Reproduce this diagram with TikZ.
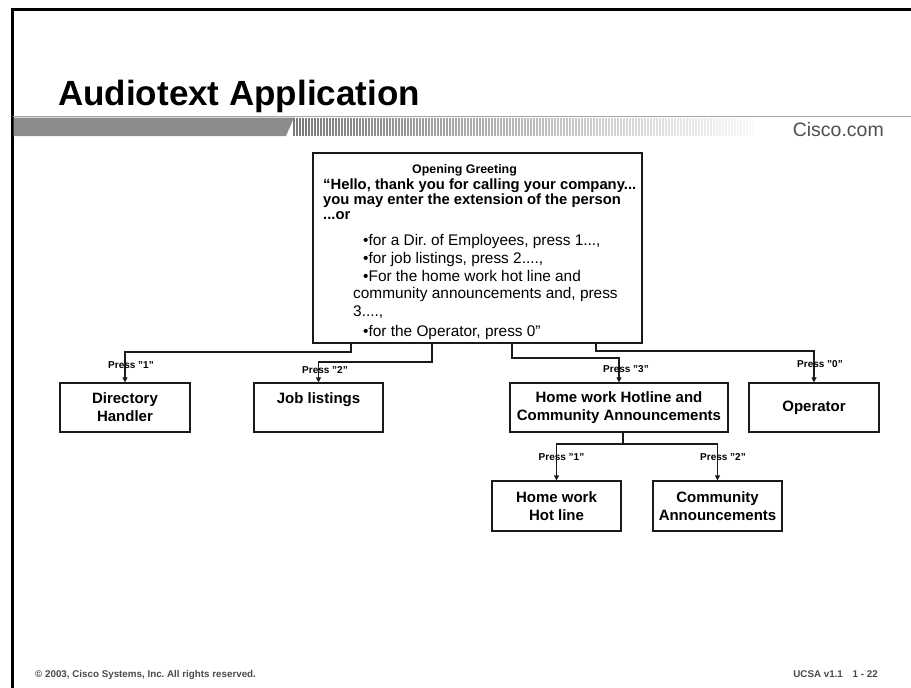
\documentclass[tikz,border=0pt]{standalone}
\usepackage{fontspec}
\setmainfont{Liberation Sans}
\usetikzlibrary{arrows.meta}
\definecolor{barGray}{HTML}{8C8C8C}
\definecolor{ruleGray}{HTML}{A6A6A6}
\definecolor{stripeGray}{HTML}{7A7A7A}
\definecolor{logoGray}{HTML}{505050}
\definecolor{footGray}{HTML}{4A4A4A}
\definecolor{lineInk}{HTML}{1A1A1A}
\frenchspacing
\begin{document}
\begin{tikzpicture}[x=1pt,y=-1pt,
  box/.style={draw=lineInk, line width=1.2pt, inner sep=0pt, align=center,
    minimum height=49pt, font=\fontsize{15}{18}\selectfont\bfseries},
  ghead/.style={anchor=base, inner sep=0pt, font=\fontsize{12.4}{14}\selectfont\bfseries},
  gbold/.style={anchor=base west, inner sep=0pt, font=\fontsize{14.8}{16}\selectfont\bfseries},
  gtext/.style={anchor=base west, inner sep=0pt, font=\fontsize{15.4}{17}\selectfont},
  presslbl/.style={inner sep=0pt, font=\fontsize{10}{12}\selectfont\bfseries},
  conn/.style={draw=lineInk, line width=1.2pt},
  arr/.style={conn, -{Triangle[length=5pt,width=5pt]}},
  foot/.style={inner sep=0pt, text=footGray, font=\fontsize{9.8}{11}\selectfont\bfseries}
]
\useasboundingbox (0,0) rectangle (911,688);
\fill[white] (0,0) rectangle (911,688);

% slide frame
\draw[line width=3pt, line join=miter] (911,9.5) -- (12,9.5) -- (12,688);

% title
\node[anchor=base west, inner sep=0pt, font=\fontsize{35}{40}\selectfont\bfseries]
  (title) at (58,105) {Audiotext Application};

% header bar: rule, solid part, fading stripes
\draw[ruleGray, line width=1.5pt] (13,116.5) -- (911,116.5);
\fill[barGray] (13.5,117.5) -- (294,117.5) -- (286,136) -- (13.5,136) -- cycle;
\foreach \i in {0,...,153}{
  \pgfmathsetmacro{\op}{1-\i/160}
  \draw[stripeGray, line width=1.4pt, opacity=\op] (294+3*\i,117.5) -- (294+3*\i,136);
}
\node[anchor=base east, inner sep=0pt, text=logoGray, font=\fontsize{19.5}{22}\selectfont]
  (logo) at (884,136) {Cisco.com};

% opening greeting menu
\node[draw=lineInk, line width=1.2pt, minimum width=329pt, minimum height=190pt, inner sep=0pt]
  (main) at (477.5,248) {};
\node[ghead] (g0) at (464.5,173.5) {Opening Greeting};
\node[gbold] (g1) at (323,189) {“Hello, thank you for calling your company...};
\node[gbold] (g2) at (323,204) {you may enter the extension of the person};
\node[gbold] (g3) at (323,219.5) {...or};
\node[gtext] (g4) at (363,245) {•for a Dir. of Employees, press 1...,};
\node[gtext] (g5) at (363,263) {•for job listings, press 2....,};
\node[gtext] (g6) at (363,281) {•For the home work hot line and};
\node[gtext] (g7) at (353,298.5) {community announcements and, press};
\node[gtext] (g8) at (353,316.5) {3....,};
\node[gtext] (g9) at (363,336) {•for the Operator, press 0”};

% first level handlers
\node[box, minimum width=130pt] (dir) at (125,407.5) {Directory\\Handler};
\node[box, minimum width=129pt] (job) at (318.5,407.5) {Job listings\\\mbox{}};
\node[box, minimum width=218pt] (hw) at (619,407.5) {Home work Hotline and\\Community Announcements};
\node[box, minimum width=130pt] (op) at (814,407.5) {Operator};

% second level handlers
\node[box, minimum width=129pt, minimum height=50pt] (hot) at (556.5,506) {Home work\\Hot line};
\node[box, minimum width=129pt, minimum height=50pt] (comm) at (717.5,506) {Community\\Announcements};

% exits on the bottom of the greeting box
\coordinate (o1) at (351,343);
\coordinate (o2) at (432,343);
\coordinate (o3) at (512,343);
\coordinate (o0) at (596,343);
\coordinate (h0) at (623,432);

\draw[arr] (o1) -- (o1 |- 0,352) -| (dir.north);
\draw[arr] (o2) -- (o2 |- 0,362) -| (job.north);
\draw[arr] (o3) -- (o3 |- 0,358) -| (hw.north);
\draw[arr] (o0) -- (o0 |- 0,351) -| (op.north);

\node[presslbl] (l1) at (131,365) {Press "1"};
\node[presslbl] (l2) at (325,370) {Press "2"};
\node[presslbl] (l3) at (626,369) {Press "3"};
\node[presslbl] (l0) at (820,364) {Press "0"};

\draw[conn] (h0) -- (h0 |- 0,444);
\draw[arr] (h0 |- 0,444) -| (hot.north);
\draw[arr] (h0 |- 0,444) -| (comm.north);

\node[presslbl] (l4) at (561.5,457) {Press "1"};
\node[presslbl] (l5) at (723,457) {Press "2"};

% footer
\node[foot, anchor=base west] (copy) at (35,677) {© 2003, Cisco Systems, Inc. All rights reserved.};
\node[foot, anchor=base east] (ver) at (878,677) {UCSA v1.1\quad 1 - 22};
\end{tikzpicture}
\end{document}
